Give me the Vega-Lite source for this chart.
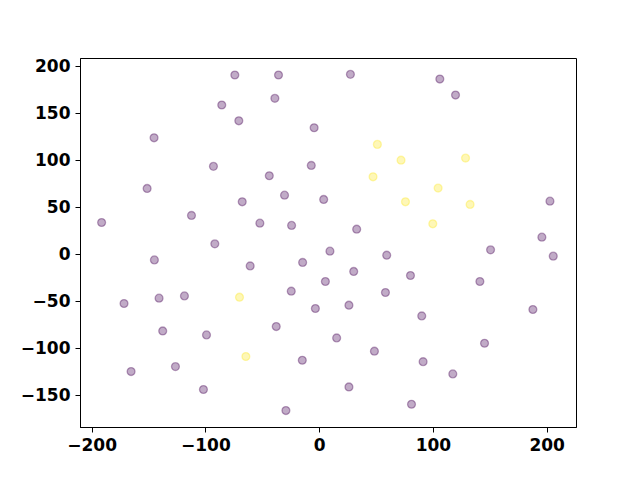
{
  "$schema": "https://vega.github.io/schema/vega-lite/v6.json",
  "autosize": "none",
  "width": 496,
  "height": 369,
  "padding": {"left": 80, "top": 58, "right": 64, "bottom": 53},
  "background": "white",
  "config": {
    "view": {"stroke": "black", "strokeWidth": 1},
    "axis": {
      "labelFont": "DejaVu Sans",
      "labelFontWeight": "bold",
      "labelFontSize": 17,
      "labelColor": "black",
      "tickColor": "black",
      "tickSize": 5,
      "tickWidth": 1,
      "domainColor": "black",
      "domainWidth": 1,
      "labelPadding": 5,
      "grid": false,
      "title": null
    }
  },
  "data": {
    "values": [
      {"x": -74.1, "y": 190.6, "c": 0},
      {"x": -35.7, "y": 190.6, "c": 0},
      {"x": -38.9, "y": 165.8, "c": 0},
      {"x": -85.6, "y": 158.7, "c": 0},
      {"x": -70.6, "y": 141.9, "c": 0},
      {"x": -4.4, "y": 134.5, "c": 0},
      {"x": -145.1, "y": 123.8, "c": 0},
      {"x": -92.9, "y": 93.4, "c": 0},
      {"x": -6.9, "y": 94.4, "c": 0},
      {"x": -43.8, "y": 83.4, "c": 0},
      {"x": -151.2, "y": 69.9, "c": 0},
      {"x": -30.4, "y": 62.8, "c": 0},
      {"x": -67.6, "y": 55.7, "c": 0},
      {"x": -112.2, "y": 41.2, "c": 0},
      {"x": -191.2, "y": 33.7, "c": 0},
      {"x": -52.1, "y": 33.0, "c": 0},
      {"x": -24.2, "y": 30.6, "c": 0},
      {"x": 27.5, "y": 191.3, "c": 0},
      {"x": 106.1, "y": 186.3, "c": 0},
      {"x": 119.9, "y": 169.3, "c": 0},
      {"x": 4.0, "y": 58.2, "c": 0},
      {"x": 202.9, "y": 56.4, "c": 0},
      {"x": 33.0, "y": 26.6, "c": 0},
      {"x": 195.8, "y": 18.1, "c": 0},
      {"x": -91.7, "y": 11.0, "c": 0},
      {"x": -144.8, "y": -6.1, "c": 0},
      {"x": -60.6, "y": -12.5, "c": 0},
      {"x": -14.5, "y": -8.8, "c": 0},
      {"x": -24.5, "y": -39.4, "c": 0},
      {"x": -171.5, "y": -52.5, "c": 0},
      {"x": -140.7, "y": -46.8, "c": 0},
      {"x": -118.4, "y": -44.4, "c": 0},
      {"x": -3.3, "y": -57.8, "c": 0},
      {"x": -137.5, "y": -81.7, "c": 0},
      {"x": -99.0, "y": -85.9, "c": 0},
      {"x": -37.7, "y": -77.0, "c": 0},
      {"x": -14.8, "y": -112.9, "c": 0},
      {"x": -165.3, "y": -124.9, "c": 0},
      {"x": -126.3, "y": -119.6, "c": 0},
      {"x": -101.7, "y": -144.0, "c": 0},
      {"x": -29.2, "y": -166.4, "c": 0},
      {"x": 9.5, "y": 3.2, "c": 0},
      {"x": 59.4, "y": -1.1, "c": 0},
      {"x": 150.7, "y": 4.6, "c": 0},
      {"x": 205.8, "y": -2.1, "c": 0},
      {"x": 30.4, "y": -18.4, "c": 0},
      {"x": 5.5, "y": -29.1, "c": 0},
      {"x": 80.3, "y": -22.7, "c": 0},
      {"x": 141.3, "y": -29.1, "c": 0},
      {"x": 58.3, "y": -40.8, "c": 0},
      {"x": 26.2, "y": -54.3, "c": 0},
      {"x": 90.2, "y": -65.7, "c": 0},
      {"x": 187.9, "y": -58.9, "c": 0},
      {"x": 15.4, "y": -89.1, "c": 0},
      {"x": 145.4, "y": -94.8, "c": 0},
      {"x": 48.6, "y": -103.2, "c": 0},
      {"x": 91.4, "y": -114.4, "c": 0},
      {"x": 117.5, "y": -127.4, "c": 0},
      {"x": 26.2, "y": -141.3, "c": 0},
      {"x": 81.2, "y": -159.7, "c": 0},
      {"x": 51.2, "y": 116.8, "c": 1},
      {"x": 72.0, "y": 100.0, "c": 1},
      {"x": 128.7, "y": 102.2, "c": 1},
      {"x": 47.4, "y": 82.3, "c": 1},
      {"x": 104.6, "y": 70.3, "c": 1},
      {"x": 75.9, "y": 55.7, "c": 1},
      {"x": 132.7, "y": 52.9, "c": 1},
      {"x": 99.9, "y": 32.3, "c": 1},
      {"x": -70.0, "y": -45.8, "c": 1},
      {"x": -64.4, "y": -108.9, "c": 1}
    ]
  },
  "mark": {"type": "point", "filled": true, "shape": "circle", "size": 62, "fillOpacity": 0.33, "strokeOpacity": 0.35, "strokeWidth": 1.33},
  "encoding": {
    "x": {
      "field": "x", "type": "quantitative",
      "scale": {"domain": [-210.2, 225.8], "nice": false, "zero": false},
      "axis": {"values": [-200, -100, 0, 100, 200]}
    },
    "y": {
      "field": "y", "type": "quantitative",
      "scale": {"domain": [-183.9, 208.7], "nice": false, "zero": false},
      "axis": {"values": [-150, -100, -50, 0, 50, 100, 150, 200]}
    },
    "color": {
      "field": "c", "type": "nominal",
      "scale": {"domain": [0, 1], "range": ["#440154", "#fde725"]},
      "legend": null
    },
    "stroke": {
      "field": "c", "type": "nominal",
      "scale": {"domain": [0, 1], "range": ["#440154", "#fde725"]},
      "legend": null
    }
  }
}
